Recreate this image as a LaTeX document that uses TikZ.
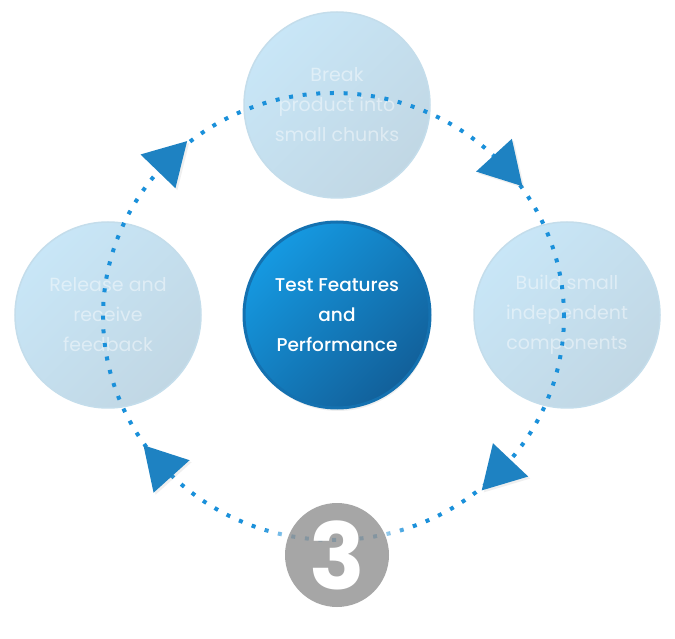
\documentclass[tikz,border=0pt]{standalone}
\usepackage{fontspec}
\setmainfont{Poppins}
\newfontfamily\corefont{Poppins Medium}
\usepackage{tikz}
\usetikzlibrary{positioning, shapes.geometric, shadows, calc}
\definecolor{stepfill1}{HTML}{C8E6F7}
\definecolor{stepfill2}{HTML}{C1D7E4}
\definecolor{stepring}{HTML}{C4DDEB}
\definecolor{corefill1}{HTML}{1599E1}
\definecolor{corefill2}{HTML}{12609A}
\definecolor{corering}{HTML}{1471B0}
\definecolor{loopdot}{HTML}{1A90DA}
\definecolor{headfill}{HTML}{1E82C2}
\definecolor{numgray}{HTML}{979797}

\tikzset{
  bubble/.style={circle, minimum size=186pt, inner sep=0pt, outer sep=0pt,
    shading angle=45, text=white, align=center,
    font=\fontsize{19}{30}\selectfont},
  stepbox/.style={bubble, draw=stepring, line width=1.5pt,
    top color=stepfill1, bottom color=stepfill2, shading angle=45, text opacity=0.45},
  corebox/.style={bubble, draw=corering, line width=3pt, top color=corefill1,
    bottom color=corefill2, shading angle=45,
    font=\corefont\fontsize{18.5}{30}\selectfont,
    drop shadow={shadow xshift=1pt, shadow yshift=-3pt, opacity=0.12}},
  loopline/.style={loopdot, line width=4pt, dash pattern=on 4pt off 9.7pt},
  numbox/.style={circle, minimum size=104pt, inner sep=0pt, outer sep=0pt,
    fill=numgray, fill opacity=0.85, text=white, text opacity=1,
    font=\fontsize{92}{92}\selectfont\bfseries},
  flowhead/.style={isosceles triangle, isosceles triangle apex angle=60,
    minimum height=42pt, inner sep=0pt, outer sep=0pt, fill=headfill,
    drop shadow={shadow xshift=2pt, shadow yshift=-2pt, opacity=0.12}}
}

\begin{document}
\begin{tikzpicture}[x=1pt, y=1pt]
	\path[fill=white, use as bounding box] (0,0) rectangle (675,638);
	\node[corebox] (core) at (337,323) {Test Features\\and\\Performance};
	\node[stepbox, above=24pt of core] (break) {Break\\product into\\small chunks};
	\node[stepbox, right=44pt of core] (build) {Build small\\independent\\components};
	\node[stepbox, left=43pt of core] (release) {Release and\\receive\\feedback};
	
	\coordinate (o) at (333.5,321.5);
	\draw[loopline] (o) ellipse [x radius=230.5, y radius=223.5];
	
	\coordinate[below=147pt of core] (numc);
	\foreach \r in {56,60,...,76}
		\fill[white, opacity=0.12, even odd rule] (numc) circle [radius=\r] circle [radius=52];
	\node[numbox] (num) at (numc) {3};
	
	\foreach \a/\n in {136/toBreak, 42.5/toBuild, -43.4/toTest, 222/toRelease}
		\node[flowhead, rotate=\a-90] (\n) at ($(o)+(\a:230.5 and 223.5)$) {};
\end{tikzpicture}
\end{document}
